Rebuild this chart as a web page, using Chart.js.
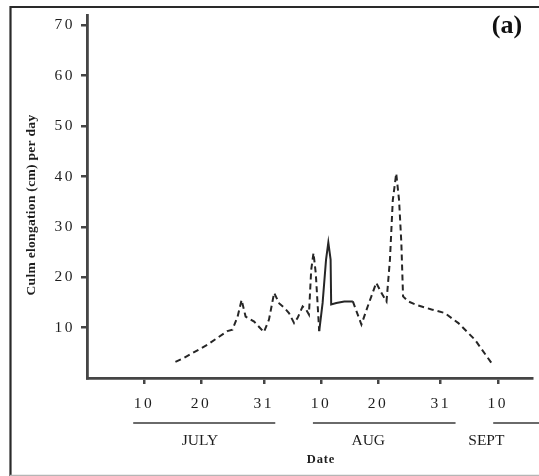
<!DOCTYPE html>
<html>
<head>
<meta charset="utf-8">
<script src="https://cdn.jsdelivr.net/npm/chart.js@4/dist/chart.umd.min.js"></script>
<style>
html,body{margin:0;padding:0;background:#fff;}
#wrap{width:539px;height:476px;position:relative;}
</style>
</head>
<body>
<div id="wrap"><canvas id="c" width="539" height="476"></canvas></div>
<script>
// Day index counted from 1 July (day 1 = 1 July, day 32 = 1 Aug, day 63 = 1 Sept)
const days = [15.5, 17.0, 21.1, 24.6, 25.5, 26.4, 27.1, 27.8, 29.3, 31.0, 31.9, 32.8, 33.7, 34.6, 35.4, 36.3, 36.9, 37.8, 38.4, 38.9, 39.3, 39.7, 40.1, 40.7, 41.3, 41.9, 42.3, 42.7, 42.8, 43.7, 45.1, 46.6, 48.1, 49.2, 50.7, 51.6, 52.5, 53.1, 53.6, 54.2, 54.7, 55.1, 55.4, 56.3, 58.0, 60.4, 62.7, 65.1, 68.0, 71.2];
const elongation = [3.2, 4.0, 6.6, 9.3, 9.6, 12.2, 15.5, 12.2, 11.2, 9.1, 11.6, 16.9, 14.8, 13.9, 12.9, 10.9, 11.9, 14.2, 13.6, 12.6, 21.5, 24.8, 20.8, 9.3, 14.9, 23.5, 26.9, 23.5, 14.6, 14.9, 15.2, 15.2, 10.6, 14.2, 18.9, 16.9, 15.2, 23.5, 35.3, 40.6, 35.3, 26.8, 16.2, 15.2, 14.4, 13.6, 12.9, 10.9, 7.6, 2.5];

const xTickDays = [10, 20, 31, 41, 51, 62, 72];
const xTickLabels = ['10', '20', '31', '10', '20', '31', '10'];
const yTickValues = [10, 20, 30, 40, 50, 60, 70];

const months = ['JULY', 'AUG', 'SEPT'];
const monthBarStart = [8.1, 39.6, 71.2];
const monthBarEnd = [33.0, 64.6, 82];
const monthLabelDay = [19.8, 49.3, 70.0];

const yTitle = 'Culm elongation (cm) per day';
const xTitle = 'Date';
const panelLabel = '(a)';

const SERIF = '"Liberation Serif", "DejaVu Serif", serif';
const AXIS = '#454545';

const decor = {
  id: 'decor',
  beforeDraw(chart) {
    chart.ctx.letterSpacing = '2.5px';
  },
  afterDraw(chart) {
    const ctx = chart.ctx;
    ctx.save();
    ctx.letterSpacing = '0px';
    const xs = chart.scales.x;
    // frame
    ctx.strokeStyle = '#2a2a2a';
    ctx.lineWidth = 2.2;
    ctx.beginPath();
    ctx.moveTo(10.5, 476);
    ctx.lineTo(10.5, 7);
    ctx.lineTo(539, 7);
    ctx.stroke();
    ctx.strokeStyle = '#b5b5b5';
    ctx.lineWidth = 1.5;
    ctx.beginPath();
    ctx.moveTo(10, 475.5);
    ctx.lineTo(539, 475.5);
    ctx.stroke();
    // month bars and labels
    ctx.strokeStyle = '#6a6a6a';
    ctx.lineWidth = 2;
    ctx.fillStyle = '#1e1e1e';
    ctx.font = '15.5px ' + SERIF;
    ctx.textAlign = 'center';
    ctx.textBaseline = 'middle';
    months.forEach((m, i) => {
      ctx.beginPath();
      ctx.moveTo(xs.getPixelForValue(monthBarStart[i]), 423);
      ctx.lineTo(xs.getPixelForValue(monthBarEnd[i]), 423);
      ctx.stroke();
      ctx.fillText(m, xs.getPixelForValue(monthLabelDay[i]), 441);
    });
    // x title
    ctx.font = 'bold 12.5px ' + SERIF;
    ctx.letterSpacing = '0.8px';
    ctx.fillText(xTitle, xs.getPixelForValue(41), 460);
    // y title
    ctx.save();
    ctx.translate(32, 205);
    ctx.rotate(-Math.PI / 2);
    ctx.letterSpacing = '0.3px';
    ctx.font = 'bold 13.5px ' + SERIF;
    ctx.fillText(yTitle, 0, 0);
    ctx.restore();
    // panel label
    ctx.letterSpacing = '0px';
    ctx.font = 'bold 26px ' + SERIF;
    ctx.fillStyle = '#111';
    ctx.fillText(panelLabel, 507, 26);
    ctx.restore();
  }
};

new Chart(document.getElementById('c'), {
  type: 'line',
  data: {
    datasets: [{
      data: days.map((d, i) => ({ x: d, y: elongation[i] })),
      borderColor: '#262626',
      borderWidth: 2,
      borderDash: [6, 4],
      pointRadius: 0,
      tension: 0,
      fill: false,
      segment: {
        borderDash: ctx => (ctx.p0.parsed.x >= 40.6 && ctx.p1.parsed.x <= 46.7) ? [] : [6, 4]
      }
    }]
  },
  options: {
    responsive: false,
    animation: false,
    devicePixelRatio: 1,
    layout: { padding: { top: 15, right: 7, left: 0, bottom: 0 } },
    plugins: { legend: { display: false }, tooltip: { enabled: false }, title: { display: false } },
    scales: {
      x: {
        type: 'linear',
        min: 0,
        max: 78,
        afterFit: s => { s.height = 98; },
        afterBuildTicks: s => { s.ticks = xTickDays.map(v => ({ value: v })); },
        ticks: {
          autoSkip: false,
          maxRotation: 0,
          padding: 11,
          color: '#1e1e1e',
          font: { family: SERIF, size: 15.5 },
          callback: (v, i) => xTickLabels[i]
        },
        grid: { drawOnChartArea: false, drawTicks: true, tickLength: 6, color: AXIS, lineWidth: 2.5 },
        border: { display: true, color: AXIS, width: 2.8 }
      },
      y: {
        min: 0,
        max: 72,
        afterFit: s => { s.width = 87; },
        afterBuildTicks: s => { s.ticks = yTickValues.map(v => ({ value: v })); },
        ticks: {
          padding: 6,
          color: '#1e1e1e',
          font: { family: SERIF, size: 15.5 },
          callback: v => String(v)
        },
        grid: { drawOnChartArea: false, drawTicks: true, tickLength: 6, color: AXIS, lineWidth: 2.5 },
        border: { display: true, color: AXIS, width: 2.8 }
      }
    }
  },
  plugins: [decor]
});
</script>
</body>
</html>
